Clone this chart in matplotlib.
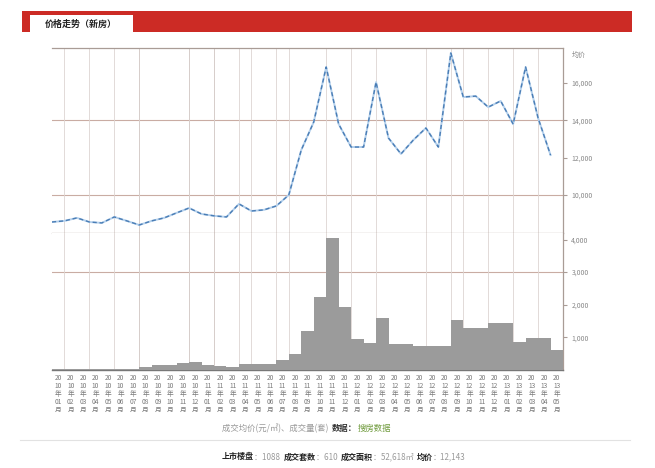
import numpy as np
import matplotlib
matplotlib.use("Agg")
import matplotlib.pyplot as plt
from matplotlib.patches import Rectangle
from matplotlib.lines import Line2D

plt.rcParams['font.family'] = ['Noto Sans CJK SC', 'DejaVu Sans']

# monthly average price (yuan / m2)
price = [8550, 8610, 8770, 8550, 8500, 8820, 8610, 8390, 8610, 8770,
         9040, 9300, 8980, 8880, 8820, 9520, 9140, 9200, 9410, 10000,
         12410, 13910, 16860, 13800, 12570, 12570, 16050, 13050, 12200, 12950,
         13590, 12570, 17610, 15250, 15300, 14710, 15040, 13800, 16860, 14130,
         12140]
# monthly sales (units)
volume = [30, 25, 35, 30, 28, 32, 30, 96, 160, 160,
          225, 257, 160, 128, 96, 193, 193, 193, 321, 482,
          1190, 2250, 4050, 1930, 960, 835, 1600, 800, 800, 740,
          740, 740, 1540, 1280, 1280, 1445, 1445, 870, 995, 995,
          610]
start_year, start_month = 2010, 1
months = []
for i in range(len(price)):
    y = start_year + (start_month - 1 + i) // 12
    m = (start_month - 1 + i) % 12 + 1
    months.append(f"{str(y)[:2]}\n{str(y)[2:]}\n年\n{m:02d}\n月")

price_ticks = [10000, 12000, 14000, 16000]
volume_ticks = [1000, 2000, 3000, 4000]
grid_idx = [1, 3, 5, 7, 11, 13, 15, 16, 18, 19, 22, 24, 26, 30, 32, 33, 35, 37, 39]
dark_grid = [7, 11, 13]

caption = [('成交均价(元/㎡)、成交量(套)  ', '#999999', 'normal'),
           ('数据：', '#333333', 'bold'),
           ('搜房数据', '#6f9a3c', 'normal')]
summary = [('上市楼盘', '#222222', 'bold'), ('：1088  ', '#9a9a9a', 'normal'),
           ('成交套数', '#222222', 'bold'), ('：610  ', '#9a9a9a', 'normal'),
           ('成交面积', '#222222', 'bold'), ('：52,618㎡  ', '#9a9a9a', 'normal'),
           ('均价', '#222222', 'bold'), ('：12,143', '#9a9a9a', 'normal')]

n = len(price)
x = np.arange(n)

fig = plt.figure(figsize=(6.55, 4.68), dpi=100)
fig.patch.set_facecolor('white')

# header bar
fig.add_artist(Rectangle((22 / 655, 1 - 32 / 468), 610 / 655, 21 / 468,
                         transform=fig.transFigure, color='#cc2b25', lw=0))
fig.add_artist(Rectangle((30 / 655, 1 - 33 / 468), 103 / 655, 18 / 468,
                         transform=fig.transFigure, color='white', lw=0))
fig.text(45 / 655, 1 - 24 / 468, '价格走势（新房）', fontsize=6.5, fontweight='bold',
         color='#222222', va='center', ha='left')

frame_c = '#a99c96'
hgrid_c = '#c9aca3'

ax1 = fig.add_axes([52 / 655, 1 - 233 / 468, 511 / 655, 185 / 468])
ax2 = fig.add_axes([52 / 655, 1 - 370 / 468, 511 / 655, 137 / 468])

# price line
ax1.plot(x, price, color='#b4d0ec', lw=1.4, zorder=3)
ax1.plot(x, price, color='#4a7db5', lw=1.0, dashes=(3, 2), zorder=4)
ax1.set_xlim(0, n)
ax1.set_ylim(7960, 17880)
ax1.set_xticks(grid_idx)
ax1.tick_params(axis='x', length=0, labelbottom=False)
ax1.grid(axis='x', color='#ddd5d2', lw=0.6)
for t in price_ticks[::2]:
    ax1.axhline(t, color=hgrid_c, lw=0.8, zorder=1)
for g in dark_grid:
    ax1.axvline(g, color='#bcaea8', lw=0.7, zorder=1)
ax1.yaxis.tick_right()
ax1.set_yticks(price_ticks)
ax1.set_yticklabels([f"{v:,}" for v in price_ticks])
ax1.tick_params(axis='y', length=3, color=frame_c, labelsize=5, labelcolor='#888888', pad=3)
ax1.text(1.018, 0.962, '均价', transform=ax1.transAxes, fontsize=5,
         color='#888888', va='center', ha='left')
ax1.spines['left'].set_visible(False)
for s in ['top', 'right', 'bottom']:
    ax1.spines[s].set_color(frame_c)
    ax1.spines[s].set_linewidth(0.9)

# volume bars
ax2.bar(x, volume, width=1.0, align='edge', color='#9b9b9b', lw=0, zorder=3)
ax2.set_xlim(0, n)
ax2.set_ylim(0, 4200)
ax2.set_xticks(grid_idx, minor=True)
ax2.grid(axis='x', which='minor', color='#ddd5d2', lw=0.6)
for g in dark_grid:
    ax2.axvline(g, color='#bcaea8', lw=0.7, zorder=1)
ax2.axhline(volume_ticks[2], color=hgrid_c, lw=0.8, zorder=1)
ax2.set_xticks(x + 0.5)
ax2.set_xticklabels(months, fontsize=4.8, color='#7a7a7a', linespacing=1.0)
ax2.tick_params(axis='x', which='both', length=0, pad=3)
ax2.yaxis.tick_right()
ax2.set_yticks(volume_ticks)
ax2.set_yticklabels([f"{v:,}" for v in volume_ticks])
ax2.tick_params(axis='y', length=3, color=frame_c, labelsize=5, labelcolor='#888888', pad=3)
ax2.spines['left'].set_visible(False)
ax2.spines['top'].set_visible(False)
ax2.spines['right'].set_color(frame_c)
ax2.spines['right'].set_linewidth(0.9)
ax2.spines['bottom'].set_color('#777777')
ax2.spines['bottom'].set_linewidth(1.0)

fig.add_artist(Line2D([20 / 655, 630 / 655], [1 - 440 / 468] * 2,
                      transform=fig.transFigure, color='#e2e2e2', lw=0.8))


def text_row(pieces, x0, y, size):
    # place coloured pieces one after another
    renderer = fig.canvas.get_renderer()
    px = x0
    for txt, col, weight in pieces:
        t = fig.text(px / 655, y, txt, fontsize=size, color=col, fontweight=weight,
                     va='center', ha='left')
        px += t.get_window_extent(renderer).width


text_row(caption, 222, 1 - 428 / 468, 6.0)
text_row(summary, 222, 1 - 457 / 468, 5.8)

fig.savefig('out.png', dpi=100, facecolor='white')
